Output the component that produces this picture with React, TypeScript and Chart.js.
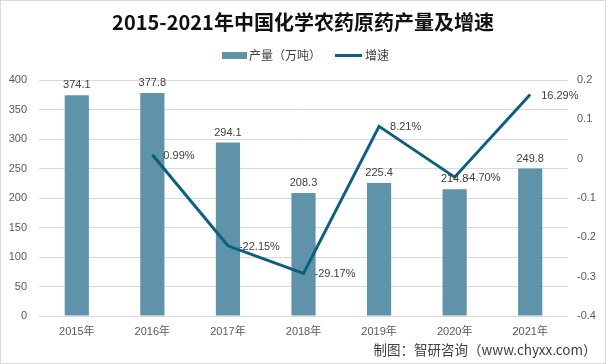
import React, { useEffect, useRef } from "react";
import { Chart, registerables } from "chart.js";
Chart.register(...registerables);

const categories = ["2015年", "2016年", "2017年", "2018年", "2019年", "2020年", "2021年"];
const output = [374.1, 377.8, 294.1, 208.3, 225.4, 214.8, 249.8];
const growth: (number | null)[] = [null, 0.0099, -0.2215, -0.2917, 0.0821, -0.047, 0.1629];
const titleText = "2015-2021年中国化学农药原药产量及增速";
const legendNames = ["产量（万吨）", "增速"];
const sourceText = "制图：智研咨询（www.chyxx.com）";

const barColor = "#5f93a9";
const lineColor = "#0b5f7f";
const textColor = "#404040";
const NUM_FONT = "'Liberation Sans', 'Noto Sans CJK SC', sans-serif";
const CJK_FONT = "'Noto Sans CJK SC', sans-serif";

const fmtPct = (v: number) => (v * 100).toFixed(2) + "%";

const decor = {
  id: "decor",
  afterDatasetsDraw(chart: any) {
    const ctx = chart.ctx;
    ctx.save();
    ctx.font = `11px ${NUM_FONT}`;
    ctx.fillStyle = textColor;
    ctx.textBaseline = "middle";
    ctx.textAlign = "center";
    chart.getDatasetMeta(0).data.forEach((el: any, i: number) => {
      ctx.fillText(output[i].toFixed(1), el.x, el.y - 10);
    });
    ctx.textAlign = "left";
    chart.getDatasetMeta(1).data.forEach((el: any, i: number) => {
      const v = growth[i];
      if (v == null) return;
      ctx.fillText(fmtPct(v), el.x + 11, el.y + 1);
    });
    ctx.restore();
  },
  afterDraw(chart: any) {
    const ctx = chart.ctx;
    const W = chart.width;
    const H = chart.height;
    ctx.save();
    // title
    ctx.fillStyle = "#111111";
    ctx.font = `bold 20px ${CJK_FONT}`;
    ctx.textAlign = "center";
    ctx.textBaseline = "middle";
    ctx.fillText(titleText, 303, 22);
    // legend
    ctx.fillStyle = barColor;
    ctx.fillRect(222, 52, 25, 7);
    ctx.font = `12px ${CJK_FONT}`;
    ctx.fillStyle = textColor;
    ctx.textAlign = "left";
    ctx.fillText(legendNames[0], 249, 55.5);
    ctx.strokeStyle = lineColor;
    ctx.lineWidth = 3;
    ctx.beginPath();
    ctx.moveTo(335, 55.5);
    ctx.lineTo(362, 55.5);
    ctx.stroke();
    ctx.fillText(legendNames[1], 365, 55.5);
    // source
    ctx.font = `13.5px ${CJK_FONT}`;
    ctx.fillStyle = textColor;
    ctx.textAlign = "center";
    ctx.fillText(sourceText, 485, 350);
    // border
    ctx.strokeStyle = "#d9d9d9";
    ctx.lineWidth = 1;
    ctx.strokeRect(0.5, 0.5, W - 1, H - 1);
    ctx.restore();
  },
};

export default function App() {
  const ref = useRef<HTMLCanvasElement | null>(null);
  useEffect(() => {
    if (!ref.current) return;
    const chart = new Chart(ref.current, {
      type: "bar",
      data: {
        labels: categories,
        datasets: [
          {
            type: "bar",
            label: legendNames[0],
            data: output,
            backgroundColor: barColor,
            yAxisID: "y",
            barPercentage: 0.32,
            categoryPercentage: 1,
            order: 2,
          },
          {
            type: "line",
            label: legendNames[1],
            data: growth,
            borderColor: lineColor,
            backgroundColor: lineColor,
            borderWidth: 3,
            pointRadius: 0,
            tension: 0,
            yAxisID: "y1",
            order: 1,
          } as any,
        ],
      },
      options: {
        responsive: false,
        animation: false,
        devicePixelRatio: 1,
        layout: { padding: { top: 80, bottom: 18, left: 0, right: 0 } },
        plugins: {
          legend: { display: false },
          title: { display: false },
          tooltip: { enabled: false },
        },
        scales: {
          x: {
            grid: { display: false, drawTicks: false },
            border: { display: false },
            ticks: { color: "#595959", font: { size: 11, family: NUM_FONT }, padding: 9 },
            afterFit: (s: any) => {
              s.height = 30;
            },
          },
          y: {
            position: "left",
            min: 0,
            max: 400,
            ticks: { stepSize: 50, color: "#595959", font: { size: 11, family: NUM_FONT }, padding: 12 },
            grid: { color: "#d9d9d9", drawTicks: false },
            border: { display: false },
            afterFit: (s: any) => {
              s.width = 39;
            },
          },
          y1: {
            position: "right",
            min: -0.4,
            max: 0.2,
            ticks: {
              stepSize: 0.1,
              color: "#595959",
              font: { size: 11, family: NUM_FONT },
              padding: 9,
              callback: (v: any) => String(Math.round(Number(v) * 10) / 10),
            },
            grid: { display: false, drawTicks: false },
            border: { display: false },
            afterFit: (s: any) => {
              s.width = 38;
            },
          },
        },
      } as any,
      plugins: [decor],
    });
    return () => chart.destroy();
  }, []);
  return (
    <div style={{ position: "fixed", left: 0, top: 0, width: 606, height: 364, background: "#fff" }}>
      <canvas ref={ref} width={606} height={364} style={{ display: "block" }} />
    </div>
  );
}
